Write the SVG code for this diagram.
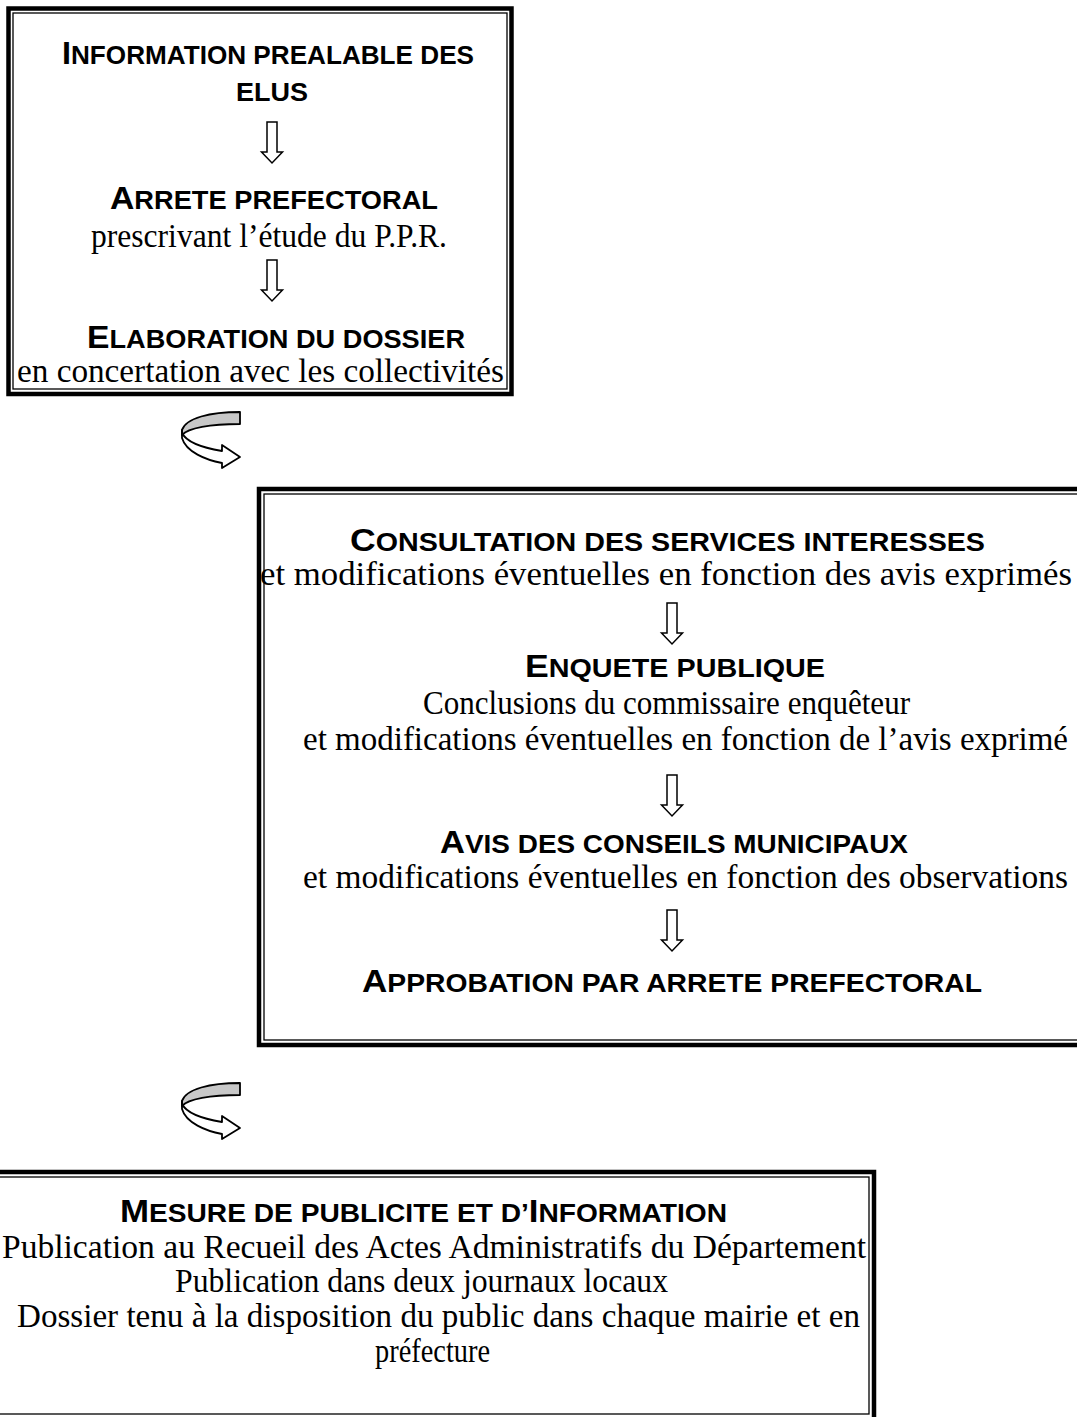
<svg xmlns="http://www.w3.org/2000/svg" xmlns:xlink="http://www.w3.org/1999/xlink" width="1077" height="1417" viewBox="0 0 1077 1417">
<defs>
<style>
.thick{fill:none;stroke:#000;stroke-width:4.5}
.thin{fill:none;stroke:#000;stroke-width:1.3}
.b{font-family:"Liberation Sans",Arial,sans-serif;font-weight:bold;font-size:25px;fill:#000}
.cap{font-size:31px}
.t{font-family:"Liberation Serif","Times New Roman",serif;font-size:34px;fill:#000}
.t33{font-size:33px}
.arr{fill:#fff;stroke:#000;stroke-width:1.5;stroke-linejoin:miter}
.band{stroke:#000;stroke-width:1.8;stroke-linejoin:round}
</style>
<path id="down" class="arr" d="M-5,0 H5 V30 H10.5 L0,41 L-10.5,30 H-5 Z"/>
<g id="curl">
<path class="band" fill="#c8c8c8" d="M90,12 C60,12 36,18 32,30 L32,35 C38,28 60,24 90,24 Z"/>
<path class="band" fill="#fff" d="M32,30 L32,38 C36,52 56,60 72,63 L72,68 L90,57 L72,45 L72,51 C54,48 37,43 32,33 Z"/>
</g>
</defs>
<rect width="1077" height="1417" fill="#fff"/>

<g id="box1">
<rect class="thick" x="8.5" y="8.5" width="503" height="385.5"/>
<rect class="thin" x="13" y="13" width="494" height="376"/>
<text class="b" x="62" y="64" textLength="412" lengthAdjust="spacingAndGlyphs"><tspan class="cap">I</tspan>NFORMATION PREALABLE DES</text>
<text class="b" x="236" y="101" textLength="72" lengthAdjust="spacingAndGlyphs">ELUS</text>
<use xlink:href="#down" x="272" y="122"/>
<text class="b" x="110" y="209" textLength="328" lengthAdjust="spacingAndGlyphs"><tspan class="cap">A</tspan>RRETE PREFECTORAL</text>
<text class="t" x="91" y="247" textLength="356" lengthAdjust="spacingAndGlyphs">prescrivant l’étude du P.P.R.</text>
<use xlink:href="#down" x="272" y="260"/>
<text class="b" x="87" y="348" textLength="378" lengthAdjust="spacingAndGlyphs"><tspan class="cap">E</tspan>LABORATION DU DOSSIER</text>
<text class="t" x="17" y="382" textLength="487" lengthAdjust="spacingAndGlyphs">en concertation avec les collectivités</text>
</g>

<g id="box2">
<rect class="thick" x="259" y="489" width="830" height="556"/>
<rect class="thin" x="264" y="494" width="830" height="546"/>
<text class="b" x="350" y="551" textLength="635" lengthAdjust="spacingAndGlyphs"><tspan class="cap">C</tspan>ONSULTATION DES SERVICES INTERESSES</text>
<text class="t" x="260" y="585" textLength="812" lengthAdjust="spacingAndGlyphs">et modifications éventuelles en fonction des avis exprimés</text>
<use xlink:href="#down" x="672" y="603"/>
<text class="b" x="525" y="677" textLength="300" lengthAdjust="spacingAndGlyphs"><tspan class="cap">E</tspan>NQUETE PUBLIQUE</text>
<text class="t" x="423" y="714" textLength="487" lengthAdjust="spacingAndGlyphs">Conclusions du commissaire enquêteur</text>
<text class="t t33" x="303" y="750" textLength="765" lengthAdjust="spacingAndGlyphs">et modifications éventuelles en fonction de l’avis exprimé</text>
<use xlink:href="#down" x="672" y="775"/>
<text class="b" x="440" y="853" textLength="468" lengthAdjust="spacingAndGlyphs"><tspan class="cap">A</tspan>VIS DES CONSEILS MUNICIPAUX</text>
<text class="t t33" x="303" y="888" textLength="765" lengthAdjust="spacingAndGlyphs">et modifications éventuelles en fonction des observations</text>
<use xlink:href="#down" x="672" y="910"/>
<text class="b" x="362" y="992" textLength="620" lengthAdjust="spacingAndGlyphs"><tspan class="cap">A</tspan>PPROBATION PAR ARRETE PREFECTORAL</text>
</g>

<g id="box3">
<rect class="thick" x="-10" y="1172" width="884" height="250"/>
<rect class="thin" x="-10" y="1177" width="879" height="237"/>
<text class="b" x="120" y="1222" textLength="607" lengthAdjust="spacingAndGlyphs"><tspan class="cap">M</tspan>ESURE DE PUBLICITE ET D’<tspan class="cap">I</tspan>NFORMATION</text>
<text class="t" x="2" y="1258" textLength="864" lengthAdjust="spacingAndGlyphs">Publication au Recueil des Actes Administratifs du Département</text>
<text class="t" x="175" y="1292" textLength="493" lengthAdjust="spacingAndGlyphs">Publication dans deux journaux locaux</text>
<text class="t" x="17" y="1327" textLength="843" lengthAdjust="spacingAndGlyphs">Dossier tenu à la disposition du public dans chaque mairie et en</text>
<text class="t" x="375" y="1362" textLength="115" lengthAdjust="spacingAndGlyphs">préfecture</text>
</g>

<g id="connectors">
<use xlink:href="#curl" transform="translate(150,400)"/>
<use xlink:href="#curl" transform="translate(150,1071)"/>
</g>
</svg>
